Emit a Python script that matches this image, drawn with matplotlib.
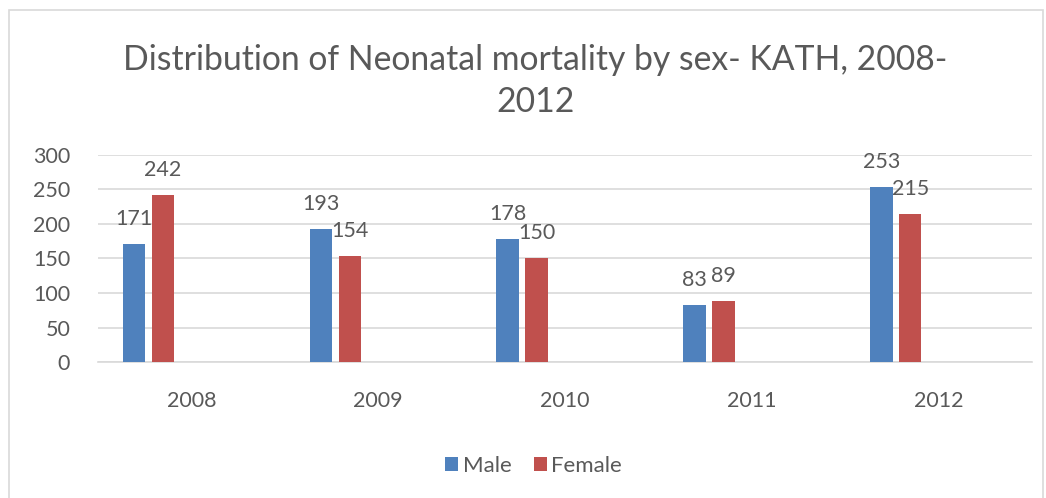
import matplotlib
matplotlib.use("Agg")
import matplotlib.pyplot as plt
from matplotlib.patches import Rectangle
import numpy as np

years = ["2008", "2009", "2010", "2011", "2012"]
male = [171, 193, 178, 83, 253]
female = [242, 154, 150, 89, 215]
yticks = [0, 50, 100, 150, 200, 250, 300]

plt.rcParams['font.family'] = ['Lato', 'DejaVu Sans']
txt = '#595959'
grid = '#D9D9D9'

fig = plt.figure(figsize=(10.46, 4.98), dpi=100)
ax = fig.add_axes([0.0937, 0.273, 0.893, 0.416])

x = np.arange(len(years))
w = 0.12
bm = ax.bar(x - 0.307, male, width=w, color='#4F81BD', label='Male', zorder=3)
bf = ax.bar(x - 0.152, female, width=w, color='#C0504D', label='Female', zorder=3)

for bars, vals in ((bm, male), (bf, female)):
    for b, v in zip(bars, vals):
        ax.annotate(str(v), (b.get_x() + b.get_width() / 2, v), xytext=(0, 18),
                    textcoords='offset points', ha='center', va='center',
                    fontsize=15.5, color=txt)

ax.set_xlim(-0.5, 4.5)
ax.set_ylim(0, 300)
ax.set_yticks(yticks)
ax.set_yticklabels([str(t) for t in yticks], fontsize=15.5, color=txt)
ax.set_xticks(x)
ax.set_xticklabels(years, fontsize=15.5, color=txt)
ax.tick_params(axis='both', length=0)
ax.tick_params(axis='x', pad=21)
ax.tick_params(axis='y', pad=20)
ax.grid(axis='y', color=grid, linewidth=1.2, zorder=0)
for s in ['top', 'right', 'left']:
    ax.spines[s].set_visible(False)
ax.spines['bottom'].set_color(grid)
ax.spines['bottom'].set_linewidth(1.2)

fig.text(0.512, 0.837, "Distribution of Neonatal mortality by sex- KATH, 2008-\n2012",
         ha='center', va='center', fontsize=24.3, color=txt, linespacing=1.38)

leg = fig.legend(handles=[bm, bf], labels=['Male', 'Female'], loc='center',
                 bbox_to_anchor=(0.51, 0.064), ncol=2, frameon=False,
                 fontsize=16, handlelength=0.6, handleheight=0.6,
                 handletextpad=0.2, columnspacing=1.0)
for t in leg.get_texts():
    t.set_color(txt)

fig.patches.append(Rectangle((0.009, -0.01), 0.988, 0.99, transform=fig.transFigure,
                             fill=False, edgecolor='#D9D9D9', linewidth=1.2))

fig.savefig('out.png', dpi=100, facecolor='white')
